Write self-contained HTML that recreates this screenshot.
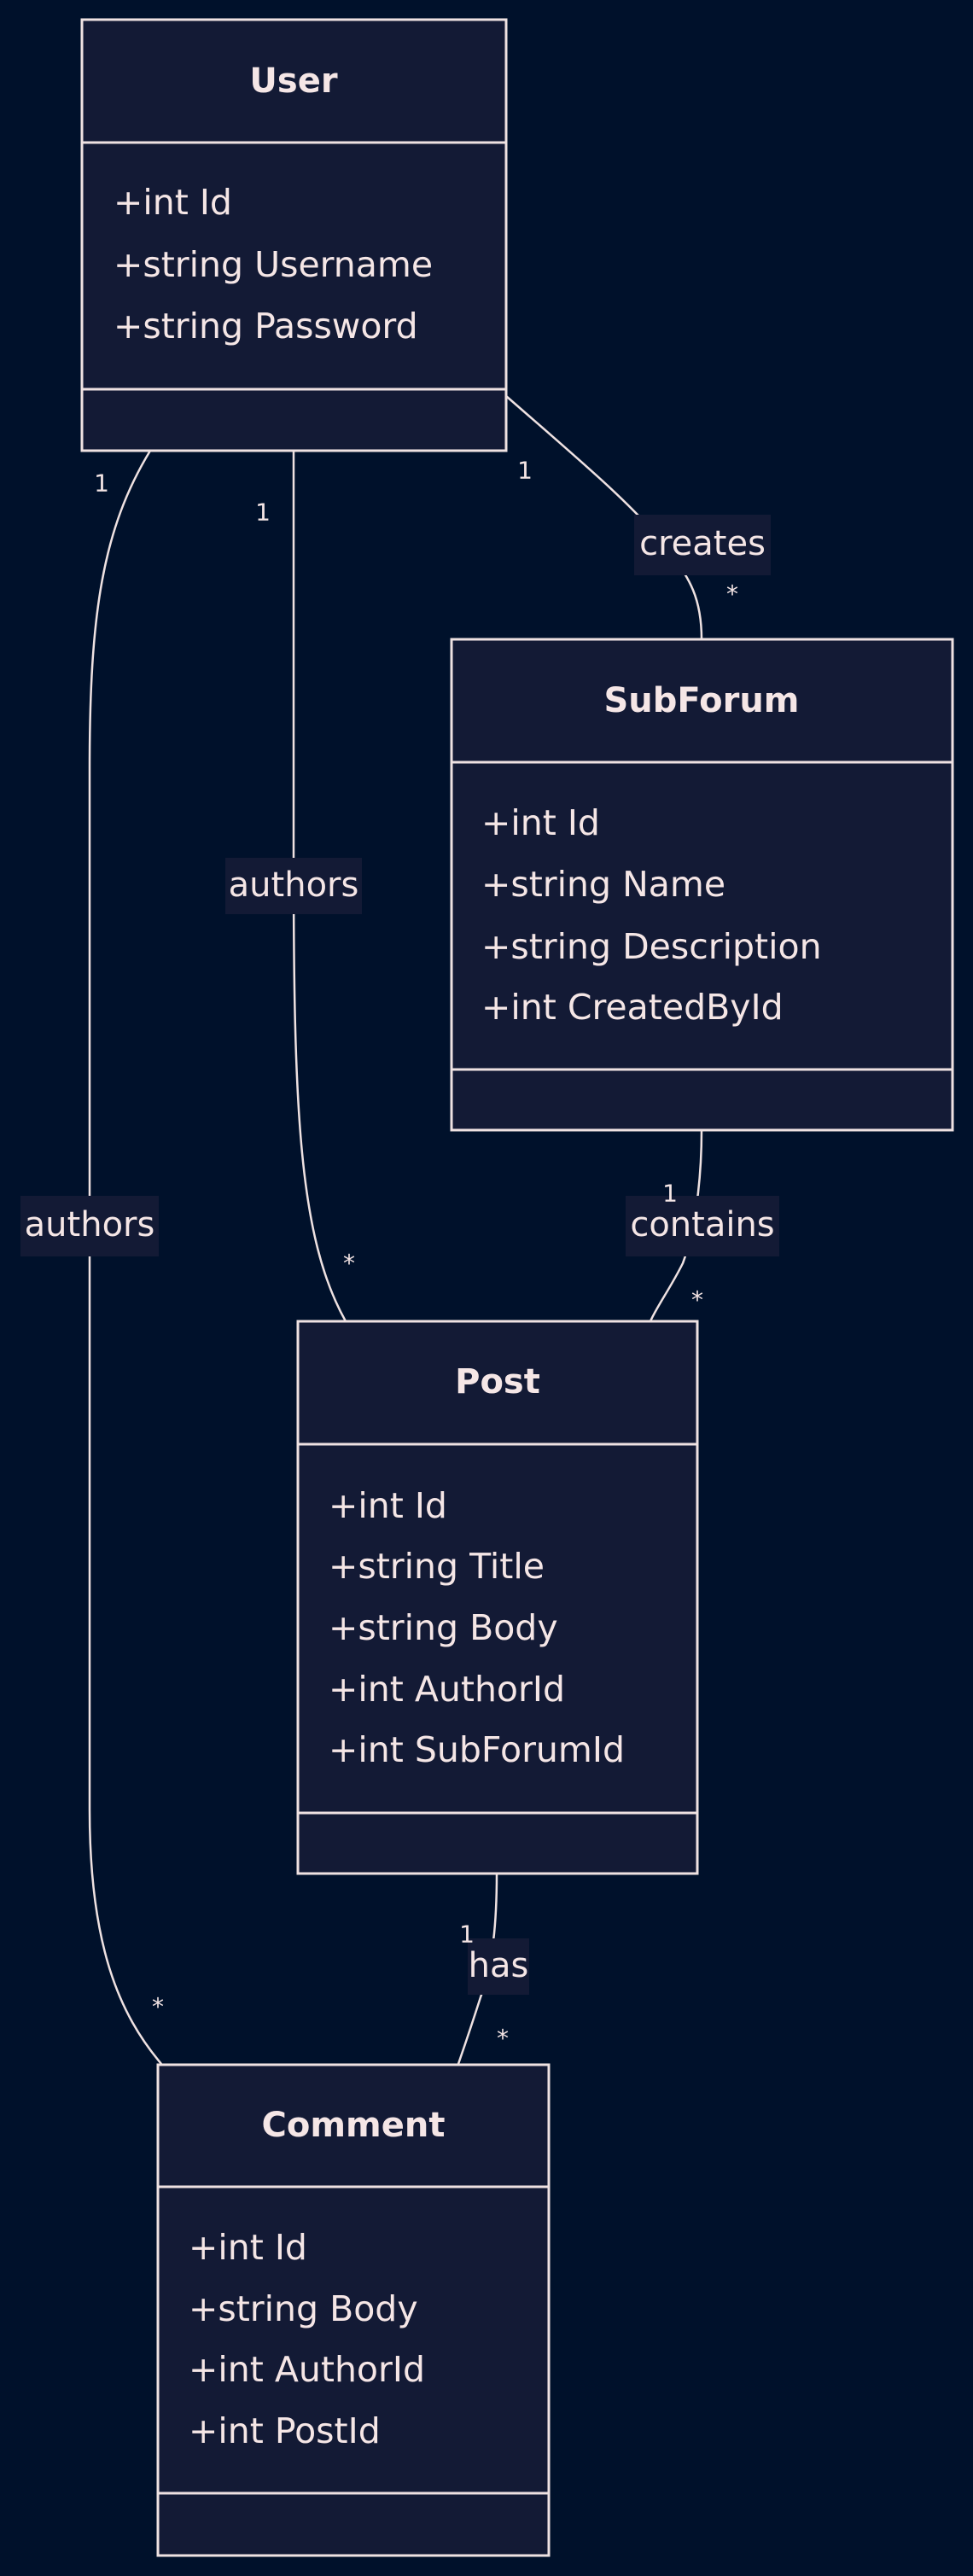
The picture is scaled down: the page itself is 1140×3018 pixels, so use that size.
<!DOCTYPE html>
<html><head><meta charset="utf-8"><style>
html,body{margin:0;padding:0;background:#00112b;}
svg{display:block;}
text{font-family:"DejaVu Sans","Liberation Sans",sans-serif;fill:#f5e6e6;}
.t{font-weight:bold;font-size:40px;text-anchor:middle;dominant-baseline:central;}
.a{font-size:41px;dominant-baseline:central;}
.l{font-size:40px;text-anchor:middle;dominant-baseline:central;}
.s{font-size:28px;dominant-baseline:central;text-anchor:middle;}
.box{fill:#131a35;stroke:#efe2e2;stroke-width:3;}
.ln{stroke:#efe2e2;stroke-width:3;}
.e{fill:none;stroke:#efe2e2;stroke-width:2.5;}
.lb{fill:#131a35;}
</style></head><body>
<svg width="1140" height="3018" viewBox="0 0 1140 3018" xmlns="http://www.w3.org/2000/svg">
<rect width="1140" height="3018" fill="#00112b"/>
<path class="e" d="M593,464 C680,540 740,590 780,640 C800,670 822,690 822,749"/>
<path class="e" d="M344,528 L344,1000 C344,1300 350,1450 405,1548"/>
<path class="e" d="M176,528 C120,620 105,720 105,900 L105,2120 C105,2280 140,2360 189,2418"/>
<path class="e" d="M822,1324 C822,1380 815,1440 800,1480 C785,1510 770,1530 762,1548"/>
<path class="e" d="M582,2195 C582,2250 578,2300 563,2340 C555,2365 545,2395 537,2418"/>
<rect class="lb" x="743" y="603" width="160" height="71"/><text class="l" x="823" y="637">creates</text>
<rect class="lb" x="264" y="1005" width="160" height="66"/><text class="l" x="344" y="1037">authors</text>
<rect class="lb" x="24" y="1401" width="162" height="71"/><text class="l" x="105" y="1435">authors</text>
<rect class="lb" x="733" y="1401" width="180" height="71"/><text class="l" x="823" y="1435">contains</text>
<rect class="lb" x="548" y="2271" width="72" height="66"/><text class="l" x="584" y="2303">has</text>
<text class="s" x="615" y="551">1</text><text class="s" x="858" y="696">*</text>
<text class="s" x="308" y="600">1</text><text class="s" x="409" y="1480">*</text>
<text class="s" x="119" y="566">1</text><text class="s" x="185" y="2351">*</text>
<text class="s" x="785" y="1398">1</text><text class="s" x="817" y="1523">*</text>
<text class="s" x="547" y="2266">1</text><text class="s" x="589" y="2388">*</text>
<rect class="box" x="96" y="23" width="497" height="505"/>
<line class="ln" x1="96" y1="167" x2="593" y2="167"/><line class="ln" x1="96" y1="456" x2="593" y2="456"/>
<text class="t" x="344" y="95">User</text>
<text class="a" x="133" y="237">+int Id</text>
<text class="a" x="133" y="310">+string Username</text>
<text class="a" x="133" y="382">+string Password</text>
<rect class="box" x="529" y="749" width="587" height="575"/>
<line class="ln" x1="529" y1="893" x2="1116" y2="893"/><line class="ln" x1="529" y1="1253" x2="1116" y2="1253"/>
<text class="t" x="822" y="821">SubForum</text>
<text class="a" x="564" y="964">+int Id</text>
<text class="a" x="564" y="1036">+string Name</text>
<text class="a" x="564" y="1109">+string Description</text>
<text class="a" x="564" y="1180">+int CreatedById</text>
<rect class="box" x="349" y="1548" width="468" height="647"/>
<line class="ln" x1="349" y1="1692" x2="817" y2="1692"/><line class="ln" x1="349" y1="2124" x2="817" y2="2124"/>
<text class="t" x="583" y="1619">Post</text>
<text class="a" x="385" y="1764">+int Id</text>
<text class="a" x="385" y="1835">+string Title</text>
<text class="a" x="385" y="1907">+string Body</text>
<text class="a" x="385" y="1979">+int AuthorId</text>
<text class="a" x="385" y="2050">+int SubForumId</text>
<rect class="box" x="185" y="2419" width="458" height="575"/>
<line class="ln" x1="185" y1="2562" x2="643" y2="2562"/><line class="ln" x1="185" y1="2921" x2="643" y2="2921"/>
<text class="t" x="414" y="2490">Comment</text>
<text class="a" x="221" y="2633">+int Id</text>
<text class="a" x="221" y="2705">+string Body</text>
<text class="a" x="221" y="2776">+int AuthorId</text>
<text class="a" x="221" y="2848">+int PostId</text>
</svg>
</body></html>
